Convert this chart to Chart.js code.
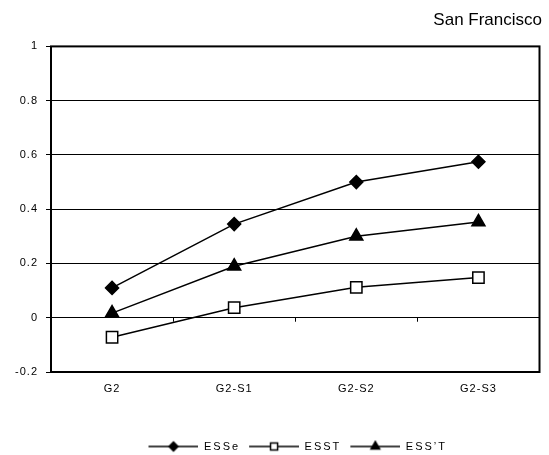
<!DOCTYPE html>
<html>
<head>
<meta charset="utf-8">
<script src="https://cdn.jsdelivr.net/npm/chart.js@4"></script>
<style>
body{margin:0;background:#fff}
</style>
</head>
<body>
<canvas id="chart" width="549" height="455"></canvas>
<script>
var labels = ['G2', 'G2-S1', 'G2-S2', 'G2-S3']
var esse = [0.11, 0.345, 0.5, 0.575]
var esst = [-0.072, 0.037, 0.112, 0.148]
var esspt = [0.017, 0.19, 0.3, 0.353]
var yTicks = [-0.2, 0, 0.2, 0.4, 0.6, 0.8, 1]

// legend swatch: small blank gap, then line with marker in the middle
function swatch(style, fill, r){
  var c = document.createElement('canvas')
  c.width = 55; c.height = 14
  var x = c.getContext('2d')
  x.strokeStyle = '#000'; x.lineWidth = 1.5
  x.beginPath(); x.moveTo(5, 7); x.lineTo(55, 7); x.stroke()
  x.fillStyle = fill
  Chart.helpers.drawPoint(x, {pointStyle: style, radius: r, borderWidth: 1.5}, 30, 7)
  return c
}
var swatches = [swatch('rectRot', '#000', 4.5), swatch('rect', '#fff', 5), swatch('triangle', '#000', 5)]

function withSpacing(obj, name, sp, fn){
  var orig = obj[name]
  obj[name] = function(){
    var c = this.ctx, prev = c.letterSpacing
    c.letterSpacing = sp
    if (fn) fn.call(this, true)
    var r = orig.apply(this, arguments)
    if (fn) fn.call(this, false)
    c.letterSpacing = prev
    return r
  }
}

var spacing = {
  id: 'spacing',
  beforeUpdate(chart){
    chart.ctx.letterSpacing = '1px'
    var tb = chart.titleBlock, lg = chart.legend
    if (tb && !tb._wrapped){
      withSpacing(tb, 'draw', '0px')
      tb._wrapped = true
    }
    if (lg && !lg._wrapped){
      withSpacing(lg, 'fit', '2px')
      // centre the legend row under the plot area
      var saved = {}
      withSpacing(lg, 'draw', '2px', function(start){
        if (start){
          saved.l = this.left; saved.r = this.right
          this.left = chart.chartArea.left; this.right = chart.chartArea.right
        } else {
          this.left = saved.l; this.right = saved.r
        }
      })
      lg._wrapped = true
    }
  },
  beforeDraw(chart){ chart.ctx.letterSpacing = '1px' }
}

var frame = {
  id: 'frame',
  beforeDatasetsDraw(chart){
    var a = chart.chartArea, ctx = chart.ctx
    var xs = chart.scales.x, ys = chart.scales.y
    ctx.save()
    ctx.strokeStyle = '#000'
    ctx.lineWidth = 1
    var y0 = ys.getPixelForValue(0)
    for (var i = 0; i < labels.length - 1; i++){
      var mx = Math.round((xs.getPixelForValue(i) + xs.getPixelForValue(i + 1)) / 2) + 0.5
      ctx.beginPath(); ctx.moveTo(mx, y0); ctx.lineTo(mx, y0 + 4); ctx.stroke()
    }
    ctx.lineWidth = 2
    ctx.strokeRect(a.left, a.top, a.right - a.left, a.bottom - a.top)
    ctx.restore()
  }
}

function ds(label, data, style, bg, r){
  return {
    label: label,
    data: data,
    borderColor: '#000',
    borderWidth: 1.5,
    backgroundColor: bg,
    pointStyle: style,
    pointRadius: r,
    pointHoverRadius: r,
    pointBorderWidth: 1.5,
    pointBorderColor: '#000',
    pointBackgroundColor: bg,
    tension: 0
  }
}

new Chart(document.getElementById('chart'), {
  type: 'line',
  data: {
    labels: labels,
    datasets: [
      ds('ESSe', esse, 'rectRot', '#000', 6.5),
      ds('ESST', esst, 'rect', '#fff', 8),
      ds('ESS\u2019T', esspt, 'triangle', '#000', 7.5)
    ]
  },
  options: {
    responsive: false,
    animation: false,
    layout: {padding: {left: 0, right: 7, top: 0, bottom: -7}},
    plugins: {
      tooltip: {enabled: false},
      title: {
        display: true,
        text: 'San Francisco',
        align: 'end',
        color: '#000',
        font: {family: 'Liberation Sans, Arial', size: 17, weight: 'normal'},
        padding: {top: 10, bottom: 16}
      },
      legend: {
        position: 'bottom',
        labels: {
          usePointStyle: true,
          pointStyleWidth: 55,
          boxHeight: 12,
          padding: 4,
          color: '#000',
          font: {family: 'Liberation Sans, Arial', size: 11},
          generateLabels(chart){
            return chart.data.datasets.map(function(d, i){
              return {text: d.label, pointStyle: swatches[i], datasetIndex: i, lineWidth: 0, strokeStyle: '#000', fillStyle: '#000'}
            })
          }
        }
      }
    },
    scales: {
      x: {
        offset: true,
        grid: {display: false},
        border: {display: false},
        ticks: {color: '#000', padding: 2, font: {family: 'Liberation Sans, Arial', size: 11}},
        afterFit(s){ s.height = 65 }
      },
      y: {
        min: -0.2,
        max: 1,
        afterBuildTicks(s){ s.ticks = yTicks.map(function(v){ return {value: v} }) },
        grid: {color: '#000', lineWidth: 1, tickLength: 5},
        border: {display: false},
        ticks: {
          color: '#000', padding: 8,
          font: {family: 'Liberation Sans, Arial', size: 11},
          callback(v){ return String(v) }
        },
        afterFit(s){ s.width = 51 }
      }
    }
  },
  plugins: [spacing, frame]
})
</script>
</body>
</html>
